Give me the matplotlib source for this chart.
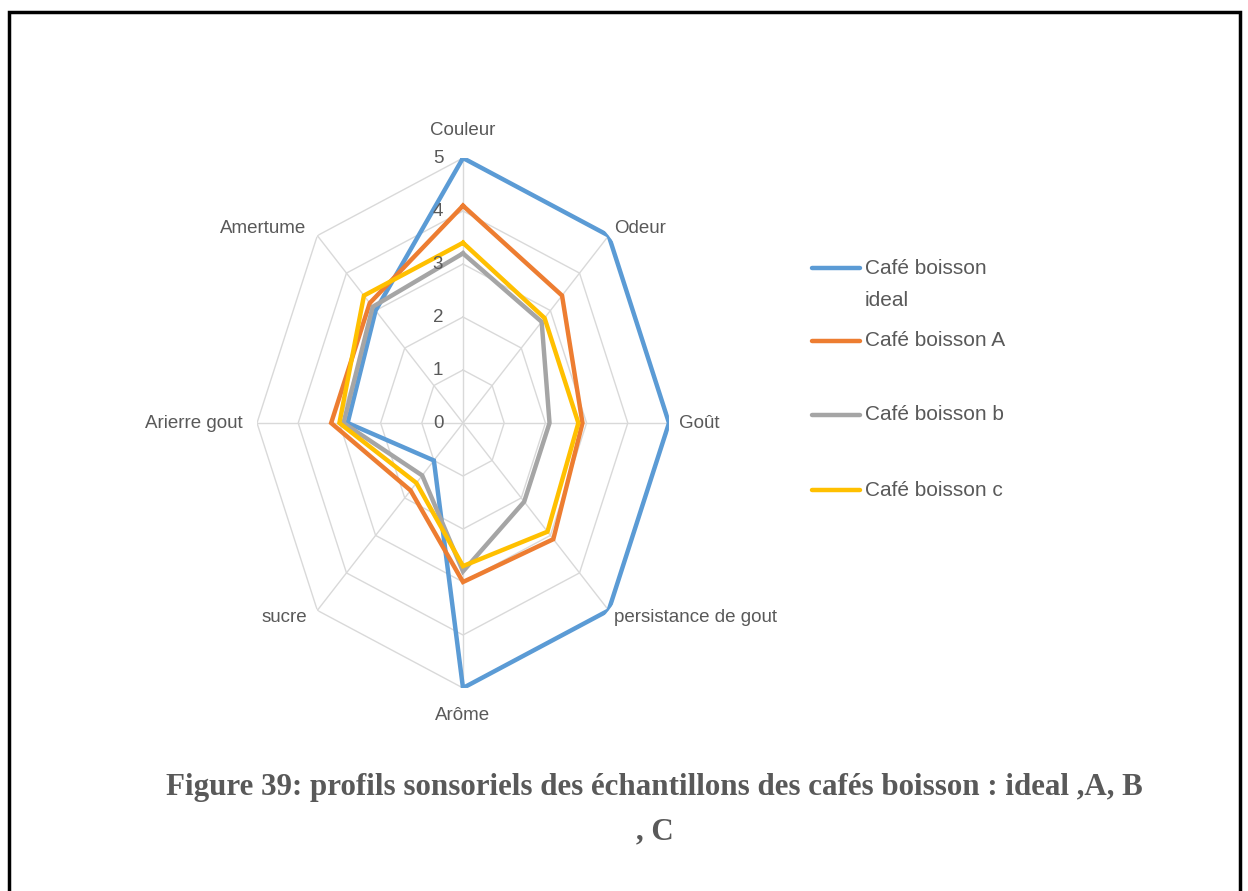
import numpy as np
import matplotlib.pyplot as plt
from matplotlib.lines import Line2D
from matplotlib.patches import Rectangle

categories = ['Couleur', 'Odeur', 'Goût', 'persistance de gout',
              'Arôme', 'sucre', 'Arierre gout', 'Amertume']
ideal = [5.0, 5.0, 5.0, 5.0, 5.0, 1.0, 2.8, 3.0]
cafe_a = [4.1, 3.4, 2.9, 3.1, 3.0, 1.8, 3.2, 3.2]
cafe_b = [3.2, 2.7, 2.1, 2.1, 2.8, 1.4, 2.9, 3.1]
cafe_c = [3.4, 2.8, 2.8, 2.9, 2.7, 1.6, 3.0, 3.4]
series_names = ['Café boisson\nideal', 'Café boisson A', 'Café boisson b', 'Café boisson c']
levels = [0, 1, 2, 3, 4, 5]

colors = ['#5B9BD5', '#ED7D31', '#A5A5A5', '#FFC000']
txt_col = '#595959'
plt.rcParams['font.family'] = ['Liberation Sans', 'DejaVu Sans']

fig = plt.figure(figsize=(12.48, 8.91), dpi=100)
W, H = 1248, 891

# axes box in pixels: centre (463, 423), rx 206, ry 265 (picture is stretched)
ax = fig.add_axes([257 / W, 1 - 688 / H, 412 / W, 530 / H], projection='polar')
ax.set_aspect('auto')
ax.set_theta_zero_location('N')
ax.set_theta_direction(-1)
ax.set_ylim(0, 5)
ax.grid(False)
ax.spines['polar'].set_visible(False)
ax.set_xticks([])
ax.set_yticks([])
ax.patch.set_alpha(0)

n = len(categories)
theta = np.linspace(0, 2 * np.pi, n, endpoint=False)
closed = np.append(theta, theta[0])

# octagon grid + spokes
for lv in levels[1:]:
    ax.plot(closed, [lv] * (n + 1), color='#D9D9D9', lw=1, zorder=1)
for t in theta:
    ax.plot([t, t], [0, 5], color='#D9D9D9', lw=1, zorder=1)

for vals, col in zip([ideal, cafe_a, cafe_b, cafe_c], colors):
    v = np.append(vals, vals[0])
    ax.plot(closed, v, color=col, lw=3.2, zorder=3, solid_joinstyle='miter')

# radial labels on the left of the vertical axis
for lv in levels:
    ax.annotate(str(lv), xy=(0, lv), xytext=(-18, 0), textcoords='offset points',
                ha='center', va='center', fontsize=13.5, color=txt_col)

# category labels
offs = [(0, 20, 'center'), (4, 5, 'left'), (7, 0, 'left'), (4, -5, 'left'),
        (0, -20, 'center'), (-7, -5, 'right'), (-10, 0, 'right'), (-8, 5, 'right')]
for t, lab, (dx, dy, ha) in zip(theta, categories, offs):
    ax.annotate(lab, xy=(t, 5), xytext=(dx, dy), textcoords='offset points',
                ha=ha, va='center', fontsize=13.5, color=txt_col)

# legend (Excel-like uneven layout)
leg_y = [268, 341, 415, 490]
for name, col, y in zip(series_names, colors, leg_y):
    fig.add_artist(Line2D([812 / W, 860 / W], [1 - y / H, 1 - y / H],
                          transform=fig.transFigure, color=col, lw=3.2,
                          solid_capstyle='round'))
    for k, part in enumerate(name.split('\n')):
        fig.text(865 / W, 1 - (y + 32 * k) / H, part, ha='left', va='center',
                 fontsize=15, color=txt_col)

# caption
fig.text(654 / W, 1 - 788 / H,
         'Figure 39: profils sonsoriels des échantillons des cafés boisson : ideal ,A, B',
         ha='center', va='center', fontsize=22.3, fontweight='bold',
         family='Liberation Serif', color=txt_col)
fig.text(655 / W, 1 - 832 / H, ', C', ha='center', va='center', fontsize=22.3,
         fontweight='bold', family='Liberation Serif', color=txt_col)

# frame (open at the bottom)
fig.add_artist(Rectangle((9 / W, -0.05), 1231 / W, 1.05 - 12 / H, transform=fig.transFigure,
                         fill=False, edgecolor='black', lw=2.5))

fig.savefig('out.png', dpi=100)
